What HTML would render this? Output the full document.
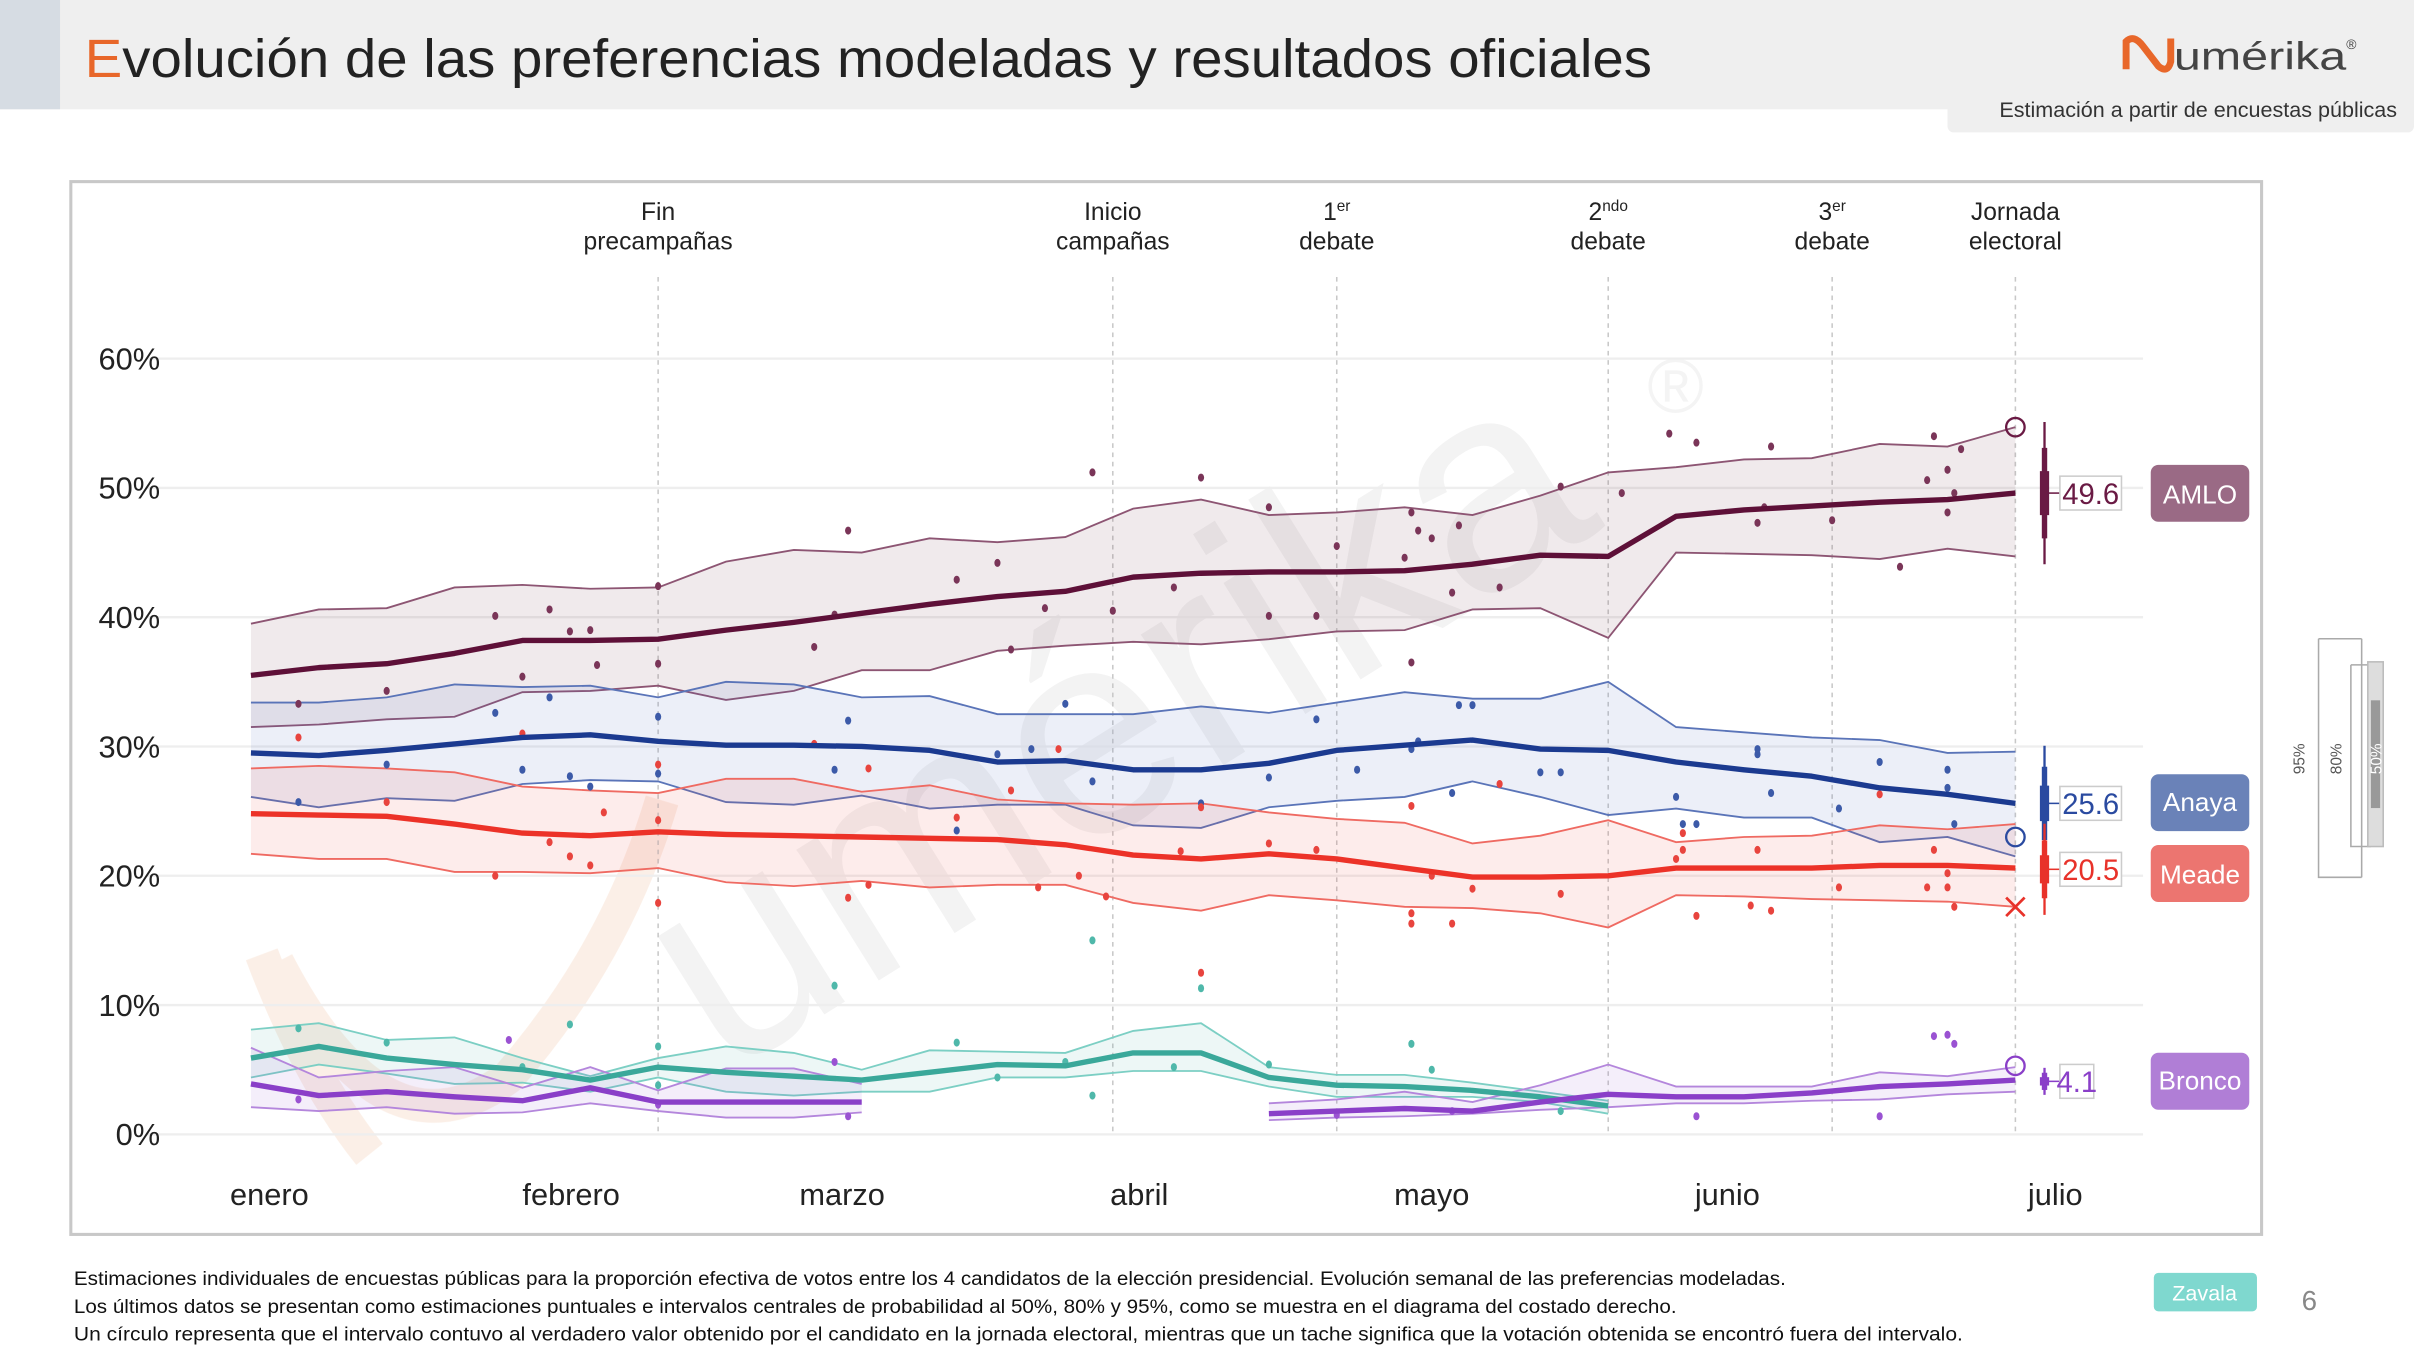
<!DOCTYPE html>
<html><head><meta charset="utf-8"><style>
html,body{margin:0;padding:0;background:#fff;}
svg{display:block;font-family:"Liberation Sans",Arial,sans-serif;}
</style></head><body>
<svg id="c" width="2414" height="1356" viewBox="0 0 1568 881" preserveAspectRatio="none" xmlns="http://www.w3.org/2000/svg">
<rect x="0" y="0" width="1568" height="71" fill="#efefef"/>
<rect x="0" y="0" width="39" height="71" fill="#d6dce3"/>
<text x="55" y="50" font-size="35" fill="#222" textLength="1018" lengthAdjust="spacingAndGlyphs"><tspan fill="#e8672a">E</tspan>volución de las preferencias modeladas y resultados oficiales</text>
<g>
<path d="M1381 45 L1381 27 Q1386 22 1392 30 L1402 43 Q1408 48 1410 40 L1410 25" fill="none" stroke="#e8672a" stroke-width="4.5"/>
<text x="1412" y="45" font-size="25" fill="#444" textLength="112" lengthAdjust="spacingAndGlyphs">umérika</text><text x="1524" y="32" font-size="9" fill="#444">®</text>
</g>
<rect x="1265" y="56" width="303" height="30" rx="4" fill="#efefef"/>
<text x="1557" y="76" font-size="14" fill="#333" text-anchor="end">Estimación a partir de encuestas públicas</text>
<rect x="46" y="118" width="1423" height="684" fill="#fff" stroke="#c8c8c8" stroke-width="2"/>
<g opacity="0.9">
<path d="M170 620 Q200 700 240 750 M180 625 Q250 760 330 700 Q400 620 430 520" fill="none" stroke="#fbeee5" stroke-width="22"/>
<text x="0" y="0" font-size="190" fill="#000" opacity="0.055" transform="translate(470,700) rotate(-32)">umérika</text>
<text x="1070" y="268" font-size="50" fill="#000" opacity="0.05">®</text>
</g>
<g id="grid"></g><g id="bands"></g><g id="dots"></g><g id="lines"></g><g id="ends"></g>
<g>
<rect x="1397" y="302" width="64" height="37" rx="5" fill="#9a6a85"/><text x="1429" y="327" font-size="17" fill="#fff" text-anchor="middle">AMLO</text>
<rect x="1397" y="503" width="64" height="37" rx="5" fill="#6a82b8"/><text x="1429" y="527" font-size="17" fill="#fff" text-anchor="middle">Anaya</text>
<rect x="1397" y="549" width="64" height="37" rx="5" fill="#ec7570"/><text x="1429" y="574" font-size="17" fill="#fff" text-anchor="middle">Meade</text>
<rect x="1397" y="684" width="64" height="37" rx="5" fill="#b07ed6"/><text x="1429" y="708" font-size="17" fill="#fff" text-anchor="middle">Bronco</text>
</g>
<g fill="none" stroke="#aaa" stroke-width="1">
<path d="M1506 415 L1534 415 M1506 415 L1506 570 L1534 570 M1534 415 L1534 570"/>
<path d="M1527 432 L1540 432 M1527 432 L1527 550 L1540 550"/>
<rect x="1538" y="430" width="10" height="120" fill="#ddd" stroke="#bbb"/>
<rect x="1540" y="455" width="6" height="70" fill="#999" stroke="none"/>
<text x="1497" y="493" font-size="10" fill="#555" stroke="none" transform="rotate(-90 1497 493)" text-anchor="middle">95%</text>
<text x="1521" y="493" font-size="10" fill="#555" stroke="none" transform="rotate(-90 1521 493)" text-anchor="middle">80%</text>
<text x="1547" y="493" font-size="10" fill="#fff" stroke="none" transform="rotate(-90 1547 493)" text-anchor="middle">50%</text>
</g>
<g font-size="12.5" fill="#111">
<text x="48" y="835" textLength="1112" lengthAdjust="spacingAndGlyphs">Estimaciones individuales de encuestas públicas para la proporción efectiva de votos entre los 4 candidatos de la elección presidencial. Evolución semanal de las preferencias modeladas.</text>
<text x="48" y="853" textLength="1041" lengthAdjust="spacingAndGlyphs">Los últimos datos se presentan como estimaciones puntuales e intervalos centrales de probabilidad al 50%, 80% y 95%, como se muestra en el diagrama del costado derecho.</text>
<text x="48" y="871" textLength="1227" lengthAdjust="spacingAndGlyphs">Un círculo representa que el intervalo contuvo al verdadero valor obtenido por el candidato en la jornada electoral, mientras que un tache significa que la votación obtenida se encontró fuera del intervalo.</text>
</g>
<rect x="1399" y="827" width="67" height="25" rx="3" fill="#7fd8cf"/>
<text x="1432" y="845" font-size="14" fill="#fff" text-anchor="middle">Zavala</text>
<text x="1500" y="851" font-size="18" fill="#888" text-anchor="middle">6</text>
</svg>
<script>
const yTicks=[0,10,20,30,40,50,60];
const months=["enero","febrero","marzo","abril","mayo","junio","julio"];
const monthX=[175,371,547,740,930,1122,1335];
const eventWeeks=[6,12.7,16,20,23.3,26];
const eventLabels=[["Fin","precampañas"],["Inicio","campañas"],["1|er","debate"],["2|ndo","debate"],["3|er","debate"],["Jornada","electoral"]];
const amloMean=[35.5,36.1,36.4,37.2,38.2,38.2,38.3,39.0,39.6,40.3,41.0,41.6,42.0,43.1,43.4,43.5,43.5,43.6,44.1,44.8,44.7,47.8,48.3,48.6,48.9,49.1,49.6];
const amloHi=[39.5,40.6,40.7,42.3,42.5,42.2,42.3,44.3,45.2,45.0,46.1,45.8,46.2,48.4,49.1,47.9,48.1,48.5,47.9,49.4,51.2,51.6,52.2,52.3,53.4,53.2,54.7];
const amloLo=[31.5,31.7,32.1,32.3,34.2,34.3,34.7,33.6,34.3,35.9,35.9,37.4,37.8,38.1,37.9,38.3,38.9,39.0,40.6,40.7,38.4,45.0,44.9,44.8,44.5,45.3,44.7];
const anayaMean=[29.5,29.3,29.7,30.2,30.7,30.9,30.4,30.1,30.1,30.0,29.7,28.8,28.9,28.2,28.2,28.7,29.7,30.1,30.5,29.8,29.7,28.8,28.2,27.7,26.8,26.3,25.6];
const anayaHi=[33.4,33.4,33.8,34.8,34.6,34.7,33.8,35.0,34.8,33.8,33.9,32.5,32.5,32.5,33.1,32.6,33.4,34.2,33.7,33.7,35.0,31.5,31.1,30.7,30.5,29.5,29.6];
const anayaLo=[26.1,25.3,26.0,25.8,27.1,27.4,27.3,25.7,25.5,26.2,25.2,25.5,25.5,23.9,23.7,25.3,25.8,26.1,27.3,26.1,24.7,25.2,24.5,24.5,22.6,23.0,21.5];
const meadeMean=[24.8,24.7,24.6,24.0,23.3,23.1,23.4,23.2,23.1,23.0,22.9,22.8,22.4,21.6,21.3,21.7,21.3,20.6,19.9,19.9,20.0,20.6,20.6,20.6,20.8,20.8,20.6];
const meadeHi=[28.3,28.5,28.3,28.0,26.9,26.6,26.4,27.5,27.5,26.5,27.0,25.9,25.6,25.5,25.6,24.9,24.4,24.1,22.5,23.1,24.3,22.6,23.0,23.1,23.9,23.6,24.0];
const meadeLo=[21.7,21.3,21.3,20.3,20.3,20.2,20.6,19.5,19.2,19.6,19.1,19.3,19.3,17.9,17.3,18.5,18.1,17.6,17.5,17.1,16.0,18.5,18.4,18.2,18.1,18.0,17.6];
const zavalaMean=[5.9,6.8,5.9,5.4,5.0,4.2,5.2,4.8,4.5,4.2,4.8,5.4,5.3,6.3,6.3,4.4,3.8,3.7,3.4,2.9,2.2];
const zavalaHi=[8.1,8.6,7.3,7.5,5.9,4.5,5.9,6.8,6.3,5.0,6.5,6.4,6.3,8.0,8.6,5.2,4.6,4.6,4.0,3.3,2.6];
const zavalaLo=[4.4,5.4,4.7,3.9,4.0,3.3,4.4,3.3,3.0,3.3,3.3,4.4,4.4,4.9,4.9,3.7,2.9,2.9,2.9,2.5,1.6];
const broncoMean=[3.9,3.0,3.3,2.9,2.6,3.6,2.5,2.5,2.5,2.5,null,null,null,null,null,1.6,1.8,2.0,1.8,2.5,3.1,2.9,2.9,3.2,3.7,3.9,4.2];
const broncoHi=[6.7,4.4,4.9,5.2,3.6,5.2,3.4,5.1,5.1,3.9,null,null,null,null,null,2.4,2.7,3.3,2.5,3.8,5.4,3.7,3.7,3.7,4.8,4.5,5.2];
const broncoLo=[2.1,1.8,2.1,1.6,1.7,2.4,1.8,1.3,1.3,1.7,null,null,null,null,null,1.1,1.3,1.4,1.6,1.9,2.1,2.4,2.4,2.6,2.7,3.1,3.3];
const amloPolls=[[0.7,33.3],[2,34.3],[3.6,40.1],[4,35.4],[4.4,40.6],[4.7,38.9],[5,39],[5.1,36.3],[6,36.4],[6,42.4],[8.3,37.7],[8.6,40.2],[8.8,46.7],[10.4,42.9],[11,44.2],[11.2,37.5],[11.7,40.7],[12.4,51.2],[12.7,40.5],[13.6,42.3],[14,50.8],[15,48.5],[15,40.1],[15.7,40.1],[16,45.5],[17,44.6],[17.1,36.5],[17.1,48.1],[17.2,46.7],[17.4,46.1],[17.7,41.9],[17.8,47.1],[18.4,42.3],[19.3,50.1],[20.2,49.6],[20.9,54.2],[21.3,53.5],[22.2,47.3],[22.3,48.5],[22.4,53.2],[23.3,47.5],[24.3,43.9],[24.7,50.6],[24.8,54],[25,51.4],[25,48.1],[25.1,49.6],[25.2,53]];
const anayaPolls=[[0.7,25.7],[2,28.6],[3.6,32.6],[4,28.2],[4.4,33.8],[4.7,27.7],[5,26.9],[6,32.3],[6,27.9],[8.6,28.2],[8.8,32],[10.4,23.5],[11,29.4],[11.5,29.8],[12,33.3],[12.4,27.3],[14,25.6],[15,27.6],[15.7,32.1],[16.3,28.2],[17.1,29.8],[17.2,30.4],[17.7,26.4],[17.8,33.2],[18,33.2],[19,28],[19.3,28],[21,26.1],[21.1,24],[21.3,24],[22.2,29.4],[22.2,29.8],[22.4,26.4],[23.4,25.2],[24,28.8],[25,28.2],[25,26.8],[25.1,24]];
const meadePolls=[[0.7,30.7],[2,25.7],[3.6,20],[4,31],[4.4,22.6],[4.7,21.5],[5,20.8],[5.2,24.9],[6,28.6],[6,24.3],[6,17.9],[8.3,30.2],[8.8,18.3],[9.1,28.3],[9.1,19.3],[10.4,24.5],[11.2,26.6],[11.6,19.1],[11.9,29.8],[12.2,20],[12.6,18.4],[13.7,21.9],[14,25.3],[14,12.5],[15,22.5],[15.7,22],[17.1,17.1],[17.1,16.3],[17.1,25.4],[17.7,16.3],[17.4,20],[18,19],[18.4,27.1],[19.3,18.6],[21.1,23.3],[21.1,22],[21,21.3],[21.3,16.9],[22.1,17.7],[22.4,17.3],[22.2,22],[23.4,19.1],[24,26.3],[24.7,19.1],[25,19.1],[25,20.2],[25.1,17.6],[24.8,22]];
const zavalaPolls=[[0.7,8.2],[2,7.1],[4,5.2],[4.7,8.5],[6,6.8],[6,3.8],[8.6,11.5],[10.4,7.1],[11,4.4],[12,5.6],[12.4,15],[12.4,3],[14,11.3],[13.6,5.2],[15,5.4],[17.1,7],[17.4,5],[19.3,1.8]];
const broncoPolls=[[0.7,2.7],[3.8,7.3],[6,2.3],[8.8,1.4],[8.6,5.6],[16,1.5],[17.7,1.8],[21.3,1.4],[24,1.4],[24.8,7.6],[25,7.7],[25.1,7.0]];
const finals=[49.6,25.6,20.5,4.1];
const actuals=[54.7,23.0,17.6,5.3];
const actualHit=[true,true,false,true];

const NS="http://www.w3.org/2000/svg";
function X(w){return 163+w*44.08;}
function Y(v){return 737-v*8.4;}
function mk(tag,attrs,parent){const e=document.createElementNS(NS,tag);for(const k in attrs)e.setAttribute(k,attrs[k]);parent.appendChild(e);return e;}
const grid=document.getElementById('grid'),bands=document.getElementById('bands'),dots=document.getElementById('dots'),lines=document.getElementById('lines'),ends=document.getElementById('ends');
yTicks.forEach(t=>{
  const l=mk('line',{x1:95,x2:1392,y1:Y(t),y2:Y(t),stroke:'#eeeeee','stroke-width':1.5},grid);
  
  
  const tx=mk('text',{x:104,y:Y(t)+7,'font-size':20,fill:'#222','text-anchor':'end'},grid);
  tx.textContent=t+'%';
  
  
});
months.forEach((m,i)=>{
  const tx=mk('text',{x:monthX[i],y:783,'font-size':20,fill:'#222','text-anchor':'middle'},grid);
  tx.textContent=m;
  
  
});
eventWeeks.forEach((w,i)=>{
  const x=X(w);
  const l=mk('line',{x1:x,x2:x,y1:180,y2:737,stroke:'#c8c8c8','stroke-dasharray':'3,3','stroke-width':1},grid);
  
  
  const [a,b]=eventLabels[i];
  const t1=mk('text',{x:x,y:143,'font-size':16,fill:'#222','text-anchor':'middle'},grid);
  
  
  if(a.includes('|')){const [n,s]=a.split('|');const s1=mk('tspan',{},t1);s1.textContent=n;const s2=mk('tspan',{'font-size':10,dy:-6},t1);s2.textContent=s;}
  else t1.textContent=a;
  const t2=mk('text',{x:x,y:162,'font-size':16,fill:'#222','text-anchor':'middle'},grid);
  t2.textContent=b;
});
function segs(arr){const out=[];let cur=[];arr.forEach((v,i)=>{if(v==null){if(cur.length)out.push(cur);cur=[];}else cur.push(i);});if(cur.length)out.push(cur);return out;}
function drawSeries(name,mean,hi,lo,col,fill,edge,polls,dotCol){
  segs(mean).forEach(s=>{
    let d='M'+s.map(i=>X(i)+','+Y(hi[i])).join(' L')+' L'+s.slice().reverse().map(i=>X(i)+','+Y(lo[i])).join(' L')+'Z';
    const b=mk('path',{d:d,fill:fill,stroke:'none'},bands);
    
    
    const u=mk('path',{d:'M'+s.map(i=>X(i)+','+Y(hi[i])).join(' L'),fill:'none',stroke:edge,'stroke-width':1.2},bands);
    
    
    const lw=mk('path',{d:'M'+s.map(i=>X(i)+','+Y(lo[i])).join(' L'),fill:'none',stroke:edge,'stroke-width':1.2},bands);
    
    
    const m=mk('path',{d:'M'+s.map(i=>X(i)+','+Y(mean[i])).join(' L'),fill:'none',stroke:col,'stroke-width':3.5,'stroke-linejoin':'round'},lines);
    
    
  });
  polls.forEach(p=>{
    const c=mk('ellipse',{cx:X(p[0]),cy:Y(p[1]),rx:2,ry:2.6,fill:dotCol},dots);
    
    
  });
}
drawSeries('amlo',amloMean,amloHi,amloLo,'#5e1038','rgba(120,60,85,0.11)','#8d5573',amloPolls,'#7a3558');
drawSeries('anaya',anayaMean,anayaHi,anayaLo,'#1b3a90','rgba(80,110,190,0.11)','#5a74b8',anayaPolls,'#3c5aa8');
drawSeries('meade',meadeMean,meadeHi,meadeLo,'#ec3228','rgba(235,70,60,0.10)','#ef6a62',meadePolls,'#e8443e');
drawSeries('zavala',zavalaMean,zavalaHi,zavalaLo,'#3aa89a','rgba(60,170,155,0.09)','#7ccfc4',zavalaPolls,'#4fb8aa');
drawSeries('bronco',broncoMean,broncoHi,broncoLo,'#8a3fc8','rgba(150,90,210,0.10)','#b486dc',broncoPolls,'#9a52d2');
const endCols=['#6a1a44','#2a4aa0','#e8322a','#8a3fc8'];
const endNames=['amlo','anaya','meade','bronco'];
const endHi=[amloHi[26],anayaHi[26],meadeHi[26],broncoHi[26]];
const endLo=[amloLo[26],anayaLo[26],meadeLo[26],broncoLo[26]];
finals.forEach((v,i)=>{
  const x=1328,c=endCols[i],r=(endHi[i]-endLo[i]);
  const l=mk('line',{x1:x,x2:x,y1:Y(v+r*0.55),y2:Y(v-r*0.55),stroke:c,'stroke-width':1.5},ends);
  
  
  mk('line',{x1:x,x2:x,y1:Y(v+r*0.35),y2:Y(v-r*0.35),stroke:c,'stroke-width':3.5},ends);
  mk('line',{x1:x,x2:x,y1:Y(v+r*0.17),y2:Y(v-r*0.17),stroke:c,'stroke-width':6},ends);
  mk('line',{x1:x,x2:1338,y1:Y(v),y2:Y(v),stroke:c,'stroke-width':1},ends);
  const bw=i==3?22:40;
  const bx=mk('rect',{x:1338,y:Y(v)-11,width:bw,height:22,fill:'#fff',stroke:'#ccc','stroke-width':1},ends);
  
  
  const t=mk('text',{x:1338+bw/2,y:Y(v)+7,'font-size':19,fill:c,'text-anchor':'middle'},ends);
  t.textContent=v.toFixed(1);
  const ax=X(26),ay=Y(actuals[i]);
  if(actualHit[i]){
    const o=mk('circle',{cx:ax,cy:ay,r:6,fill:'none',stroke:c,'stroke-width':1.5},ends);
    
    
  } else {
    const o=mk('path',{d:`M${ax-6},${ay-6} L${ax+6},${ay+6} M${ax+6},${ay-6} L${ax-6},${ay+6}`,stroke:c,'stroke-width':1.8},ends);
    
    
  }
});
</script>
</body></html>
